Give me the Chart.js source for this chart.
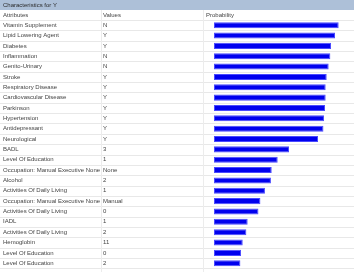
<!DOCTYPE html>
<html>
<head>
<meta charset="utf-8">
<script src="https://cdn.jsdelivr.net/npm/chart.js@4/dist/chart.umd.min.js"></script>
<style>
html,body{margin:0;padding:0;background:#fff;}
#wrap{position:relative;width:354px;height:272px;}
</style>
</head>
<body>
<div id="wrap"><canvas id="c" width="354" height="272"></canvas></div>
<script>
const titleText = "Characteristics for Y";
const headers = ["Attributes", "Values", "Probability"];
const attributes = [
  "Vitamin Supplement", "Lipid Lowering Agent", "Diabetes", "Inflammation",
  "Genito-Urinary", "Stroke", "Respiratory Disease", "Cardiovascular Disease",
  "Parkinson", "Hypertension", "Antidepressant", "Neurological", "BADL",
  "Level Of Education", "Occupation: Manual Executive None", "Alcohol",
  "Activities Of Daily Living", "Occupation: Manual Executive None",
  "Activities Of Daily Living", "IADL", "Activities Of Daily Living",
  "Hemoglobin", "Level Of Education", "Level Of Education"
];
const attrValues = [
  "N", "Y", "Y", "N", "N", "Y", "Y", "Y", "Y", "Y", "Y", "Y", "3",
  "1", "None", "2", "1", "Manual", "0", "1", "2", "11", "0", "2"
];
const probabilities = [
  0.959, 0.931, 0.900, 0.895, 0.882, 0.867, 0.859, 0.859, 0.854, 0.846,
  0.842, 0.800, 0.577, 0.490, 0.444, 0.438, 0.392, 0.357, 0.342, 0.259,
  0.249, 0.221, 0.208, 0.203
];

const FONT = "6px 'Liberation Sans', Arial, sans-serif";
const COL_VAL_X = 101, COL_PROB_X = 203;

const tablePlugin = {
  id: 'tablePlugin',
  beforeDatasetsDraw(chart) {
    const ctx = chart.ctx;
    const y = chart.scales.y;
    const W = chart.width, H = chart.height;
    ctx.save();
    // title bar
    ctx.fillStyle = '#adc0d8';
    ctx.fillRect(0, 0, W, 10);
    // row separators
    ctx.strokeStyle = '#e8e8e8';
    ctx.lineWidth = 1;
    const half = (y.getPixelForValue(1) - y.getPixelForValue(0)) / 2;
    ctx.beginPath();
    ctx.moveTo(0, Math.round(y.getPixelForValue(0) - half) + 0.5);
    ctx.lineTo(W, Math.round(y.getPixelForValue(0) - half) + 0.5);
    for (let i = 0; i < attributes.length; i++) {
      const yy = Math.round(y.getPixelForValue(i) + half) + 0.5;
      ctx.moveTo(0, yy); ctx.lineTo(W, yy);
    }
    ctx.stroke();
    // column separators
    ctx.strokeStyle = '#ececec';
    ctx.beginPath();
    ctx.moveTo(COL_VAL_X + 0.5, 10); ctx.lineTo(COL_VAL_X + 0.5, H);
    ctx.moveTo(COL_PROB_X + 0.5, 10); ctx.lineTo(COL_PROB_X + 0.5, H);
    ctx.stroke();
    // texts
    ctx.font = FONT;
    ctx.textBaseline = 'middle';
    ctx.textAlign = 'left';
    ctx.fillStyle = '#2a2a2a';
    ctx.fillText(titleText, 3, 5);
    ctx.fillStyle = '#444';
    ctx.fillText(headers[0], 3, 15);
    ctx.fillText(headers[1], COL_VAL_X + 2, 15);
    ctx.fillText(headers[2], COL_PROB_X + 3, 15);
    for (let i = 0; i < attrValues.length; i++) {
      ctx.fillText(attrValues[i], COL_VAL_X + 2, y.getPixelForValue(i));
    }
    ctx.restore();
  }
};

new Chart(document.getElementById('c'), {
  type: 'bar',
  data: {
    labels: attributes,
    datasets: [{
      data: probabilities,
      backgroundColor: '#0000ee',
      borderColor: '#4a4aff',
      borderWidth: 1,
      borderSkipped: false,
      barPercentage: 0.58,
      categoryPercentage: 1
    }]
  },
  options: {
    indexAxis: 'y',
    responsive: false,
    animation: false,
    devicePixelRatio: 1,
    layout: { padding: { left: 3, top: 20, right: 10, bottom: 0 } },
    plugins: { legend: { display: false }, tooltip: { enabled: false }, title: { display: false } },
    scales: {
      x: { display: false, min: 0, max: 1 },
      y: {
        position: 'left',
        grid: { display: false },
        border: { display: false },
        ticks: {
          autoSkip: false,
          crossAlign: 'far',
          padding: 0,
          color: '#444',
          font: { family: "'Liberation Sans', Arial, sans-serif", size: 6 }
        },
        afterFit(scale) { scale.width = 211; }
      }
    }
  },
  plugins: [tablePlugin]
});
</script>
</body>
</html>
